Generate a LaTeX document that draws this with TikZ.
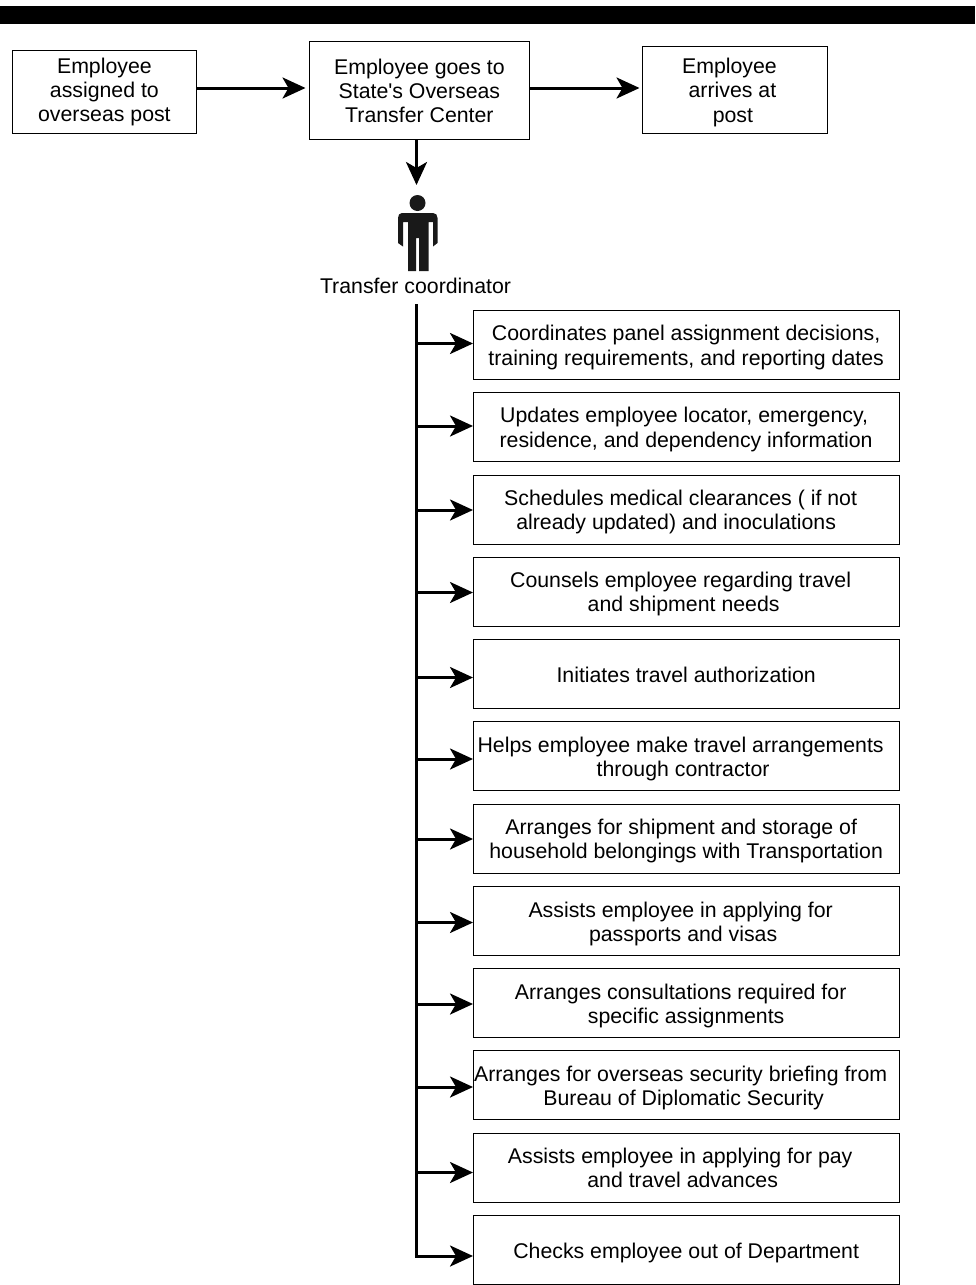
\documentclass[tikz,border=0pt]{standalone}
\usepackage{fontspec}
\newfontfamily\plainsans{Liberation Sans}
\usetikzlibrary{arrows.meta}
\tikzset{
  box/.style={draw=black,line width=1.3pt,align=center,anchor=north west,inner sep=0pt,font=\plainsans\fontsize{21.3}{24.2}\selectfont},
  lbox/.style={box,minimum width=426pt,minimum height=69pt},
  link/.style={draw=black,line width=3pt,line join=miter,-{Stealth[length=23pt,width=21pt,inset=6pt]}},
}
\newcommand{\sh}[1]{\hspace*{#1pt}}
\newcommand{\dn}[1]{\rule{0pt}{#1pt}}
\begin{document}
\begin{tikzpicture}[x=1pt,y=-1pt]
\useasboundingbox (0,0) rectangle (975,1285);
\fill[black] (0,6) rectangle (975,24);
\node[box,minimum width=184.5pt,minimum height=83pt] (a) at (11.5,50) {Employee\\assigned to\\overseas post};
\node[box,minimum width=220.5pt,minimum height=98pt] (b) at (308.5,41) {Employee goes to\\State's Overseas\\Transfer Center};
\node[box,minimum width=185.5pt,minimum height=87pt] (c) at (641.5,46) {\dn{20}\sh{-11}Employee\\\sh{-5}arrives at\\\sh{-4}post};
\coordinate (ab) at (a.east |- 0,88);
\draw[link,shorten >=3pt] (ab) -- (b.west |- ab);
\draw[link,shorten >=2pt] (b.east |- ab) -- (c.west |- ab);
\coordinate (head) at (416.5,185);
\draw[link] (b.south -| head) -- (head);
% person
\fill[black!90!white] (417.5,203) circle (8);
\fill[black!90!white] (402,213) -- (433,213) .. controls (436,213) and (437.5,215) .. (437.5,218) -- (437.5,243) -- (433,246.5) -- (433,222) -- (428.5,222) -- (428.5,271) -- (419,271) -- (419,238) -- (416,238) -- (416,271) -- (408,271) -- (408,222) -- (403,222) -- (403,246.5) -- (398,243) -- (398,218) .. controls (398,215) and (399.5,213) .. (402,213) -- cycle;
\node[font=\plainsans\fontsize{21.3}{24}\selectfont,inner sep=0pt] (tc) at (415.5,286) {Transfer coordinator};
\coordinate (trunk) at (416.7,304);
\node[lbox] (r1) at (472.5,310) {\dn{20}Coordinates panel assignment decisions,\\training requirements, and reporting dates};
\node[lbox] (r2) at (472.5,392) {\dn{20}\sh{-4}Updates employee locator, emergency,\\residence, and dependency information};
\node[lbox] (r3) at (472.5,474.5) {\dn{19.5}\sh{-11}Schedules medical clearances ( if not\\\sh{-20}already updated) and inoculations};
\node[lbox] (r4) at (472.5,556.5) {\dn{19.5}\sh{-11}Counsels employee regarding travel\\\sh{-5}and shipment needs};
\node[lbox] (r5) at (472.5,639) {\dn{17.5}Initiates travel authorization};
\node[lbox] (r6) at (472.5,721) {\dn{20.5}\sh{-11}Helps employee make travel arrangements\\\sh{-6}through contractor};
\node[lbox] (r7) at (472.5,803.5) {\dn{19.5}\sh{-10}Arranges for shipment and storage of\\household belongings with Transportation};
\node[lbox] (r8) at (472.5,886) {\dn{20.5}\sh{-11}Assists employee in applying for\\\sh{-6}passports and visas};
\node[lbox] (r9) at (472.5,968) {\dn{20.5}\sh{-11}Arranges consultations required for\\specific assignments};
\node[lbox] (r10) at (472.5,1050) {\dn{20.5}\sh{-11}Arranges for overseas security briefing from\\\sh{-5}Bureau of Diplomatic Security};
\node[lbox] (r11) at (472.5,1132.5) {\sh{-12}Assists employee in applying for pay\\\sh{-7}and travel advances};
\node[lbox] (r12) at (472.5,1214.5) {\dn{21.5}Checks employee out of Department};
\draw[link,shorten >=-0.5pt] (trunk) |- (r12.west |- 0,1256);
\foreach \i/\yy in {1/343.5,2/426,3/510,4/592.5,5/677.5,6/759,7/839,8/922.5,9/1004,10/1087,11/1172.5} {
  \draw[link,shorten >=-0.5pt] (trunk |- 0,\yy) -- (r\i.west |- 0,\yy);
}
\end{tikzpicture}
\end{document}
